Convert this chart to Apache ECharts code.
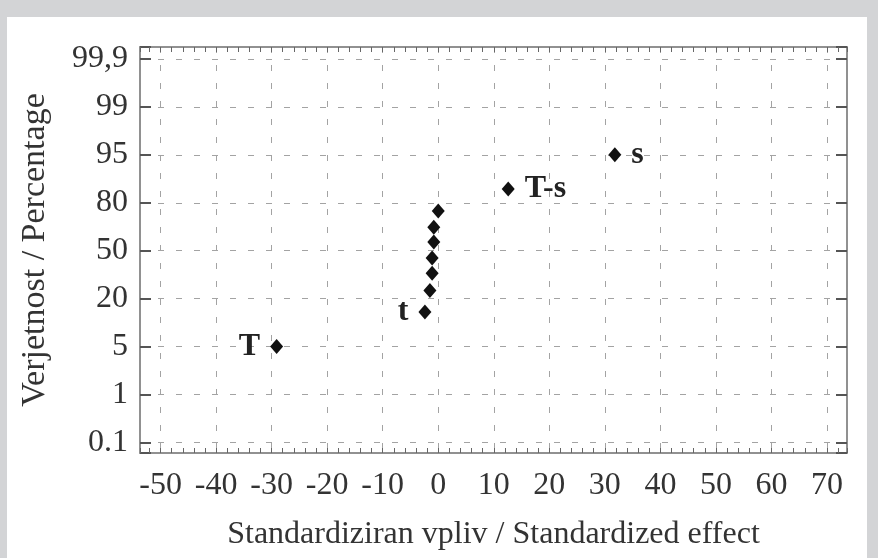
<!DOCTYPE html>
<html>
<head>
<meta charset="utf-8">
<script src="https://cdn.jsdelivr.net/npm/echarts@6/dist/echarts.min.js"></script>
<style>
  body { margin: 0; background: #d3d4d6; }
  #panel { position: absolute; left: 7px; top: 17px; width: 860px; height: 541px; background: #fff; }
  #chart { position: absolute; left: 0; top: 0; width: 878px; height: 558px; }
</style>
</head>
<body>
<div id="panel"></div>
<div id="chart"></div>
<script>
// normal probability plot: y value is the index into probLabels (evenly spaced)
const probLabels = ['0.1', '1', '5', '20', '50', '80', '95', '99', '99,9']
const effectValues = [-29.1, -2.4, -1.5, -1.1, -1.1, -0.8, -0.8, 0, 12.6, 31.8]
const probPositions = [2.0, 2.72, 3.17, 3.53, 3.85, 4.18, 4.49, 4.83, 5.29, 6.0]
const effectNames = ['T', 't', '', '', '', '', '', '', 'T-s', 's']

const xRange = [-53.7, 73.6]
const yRange = [-0.22, 8.25]

const font = 'Liberation Serif'
const textColor = '#333'
const frameColor = '#8a8a8a'
const gridLine = { show: true, lineStyle: { color: '#a3a3a3', width: 1, type: [6, 12] } }

const chart = echarts.init(document.getElementById('chart'))

function xAxisBase(extra) {
  return Object.assign({
    type: 'value',
    min: xRange[0],
    max: xRange[1],
    axisLine: { show: true, onZero: false, lineStyle: { color: frameColor, width: 1.5 } },
    axisTick: { show: true, inside: true, length: 5, lineStyle: { color: '#666' } },
    axisLabel: { show: false },
    splitLine: { show: false }
  }, extra)
}

function yAxisBase(extra) {
  return Object.assign({
    type: 'value',
    min: yRange[0],
    max: yRange[1],
    minInterval: 1,
    maxInterval: 1,
    axisLine: { show: true, onZero: false, lineStyle: { color: frameColor, width: 1.5 } },
    axisTick: { show: true, inside: true, length: 11, lineStyle: { color: '#555', width: 2 } },
    axisLabel: { show: false },
    splitLine: { show: false }
  }, extra)
}

chart.setOption({
  animation: false,
  textStyle: { fontFamily: font },
  grid: {
    left: 140,
    top: 47,
    right: 31,
    bottom: 105,
    show: true,
    borderColor: frameColor,
    borderWidth: 1.5
  },
  xAxis: [
    // bottom: small ticks every 2, labels every 10
    xAxisBase({
      position: 'bottom',
      minInterval: 2,
      maxInterval: 2,
      name: 'Standardiziran vpliv / Standardized effect',
      nameLocation: 'middle',
      nameGap: 66,
      nameTextStyle: { fontFamily: font, fontSize: 32, color: textColor },
      axisLabel: {
        show: true,
        margin: 17,
        fontFamily: font,
        fontSize: 32,
        color: textColor,
        formatter: v => (v % 10 === 0 ? String(v) : '')
      }
    }),
    // top: small ticks every 2
    xAxisBase({ position: 'top', minInterval: 2, maxInterval: 2 }),
    // dashed grid every 10
    xAxisBase({
      position: 'bottom',
      minInterval: 10,
      maxInterval: 10,
      axisLine: { show: false, onZero: false },
      axisTick: { show: false },
      splitLine: gridLine
    })
  ],
  yAxis: [
    yAxisBase({
      position: 'left',
      name: 'Verjetnost / Percentage',
      nameLocation: 'middle',
      nameGap: 88,
      nameTextStyle: { fontFamily: font, fontSize: 34, color: textColor },
      axisLabel: {
        show: true,
        margin: 12,
        fontFamily: font,
        fontSize: 32,
        color: textColor,
        formatter: v => (Number.isInteger(v) ? probLabels[v] : '')
      },
      splitLine: gridLine
    }),
    yAxisBase({ position: 'right' })
  ],
  series: [{
    type: 'scatter',
    xAxisIndex: 0,
    yAxisIndex: 0,
    symbol: 'diamond',
    symbolSize: [13, 15],
    itemStyle: { color: '#111', opacity: 1 },
    label: {
      show: false,
      formatter: '{b}',
      fontFamily: font,
      fontSize: 32,
      fontWeight: 'bold',
      color: '#222',
      distance: 10
    },
    data: effectValues.map((x, i) => ({
      value: [x, probPositions[i]],
      name: effectNames[i],
      label: { show: effectNames[i] !== '', position: x < 0 ? 'left' : 'right' }
    }))
  }]
})
</script>
</body>
</html>
